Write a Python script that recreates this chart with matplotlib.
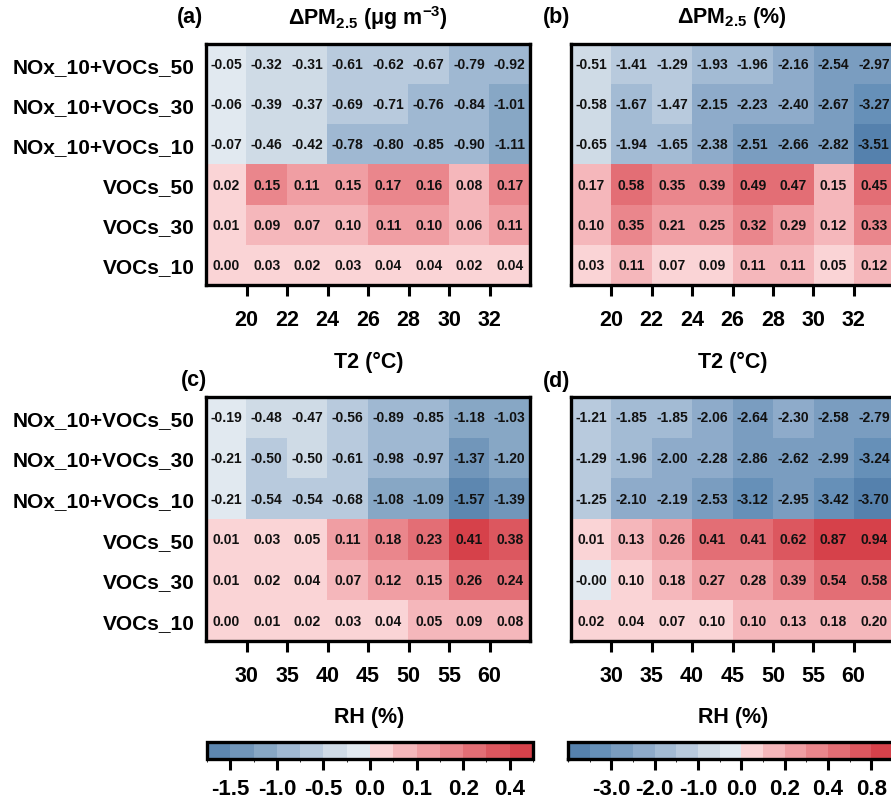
import numpy as np
import matplotlib
matplotlib.use("Agg")
import matplotlib.pyplot as plt
from matplotlib.colors import ListedColormap, BoundaryNorm
from matplotlib.cm import ScalarMappable

plt.rcParams["font.family"] = ["Liberation Sans", "DejaVu Sans"]
plt.rcParams["font.weight"] = "bold"
plt.rcParams["mathtext.fontset"] = "custom"
plt.rcParams["mathtext.rm"] = "Liberation Sans:bold"
plt.rcParams["mathtext.it"] = "Liberation Sans:bold"
plt.rcParams["mathtext.bf"] = "Liberation Sans:bold"

# ---------- data (rows listed top to bottom) ----------
scenarios = ["NOx_10+VOCs_50", "NOx_10+VOCs_30", "NOx_10+VOCs_10",
             "VOCs_50", "VOCs_30", "VOCs_10"]
t2_ticks = ["20", "22", "24", "26", "28", "30", "32"]
rh_ticks = ["30", "35", "40", "45", "50", "55", "60"]

dpm_t2_abs = np.array([
    [-0.05, -0.32, -0.31, -0.61, -0.62, -0.67, -0.79, -0.92],
    [-0.06, -0.39, -0.37, -0.69, -0.71, -0.76, -0.84, -1.01],
    [-0.07, -0.46, -0.42, -0.78, -0.80, -0.85, -0.90, -1.11],
    [0.02, 0.15, 0.11, 0.149, 0.17, 0.16, 0.08, 0.17],
    [0.01, 0.09, 0.07, 0.099, 0.11, 0.10, 0.06, 0.11],
    [0.00, 0.03, 0.02, 0.03, 0.04, 0.04, 0.02, 0.04],
])
dpm_t2_pct = np.array([
    [-0.51, -1.41, -1.29, -1.93, -1.96, -2.16, -2.54, -2.97],
    [-0.58, -1.67, -1.47, -2.15, -2.23, -2.40, -2.67, -3.27],
    [-0.65, -1.94, -1.65, -2.38, -2.51, -2.66, -2.82, -3.51],
    [0.17, 0.58, 0.35, 0.39, 0.49, 0.47, 0.15, 0.45],
    [0.10, 0.35, 0.21, 0.25, 0.32, 0.29, 0.12, 0.33],
    [0.03, 0.11, 0.07, 0.09, 0.11, 0.11, 0.05, 0.12],
])
dpm_rh_abs = np.array([
    [-0.19, -0.48, -0.47, -0.56, -0.89, -0.85, -1.18, -1.03],
    [-0.21, -0.502, -0.496, -0.61, -0.98, -0.97, -1.37, -1.20],
    [-0.21, -0.54, -0.54, -0.68, -1.08, -1.09, -1.57, -1.39],
    [0.01, 0.03, 0.048, 0.11, 0.18, 0.23, 0.41, 0.38],
    [0.01, 0.02, 0.04, 0.07, 0.12, 0.149, 0.26, 0.24],
    [0.00, 0.01, 0.02, 0.03, 0.04, 0.05, 0.09, 0.08],
])
dpm_rh_pct = np.array([
    [-1.21, -1.85, -1.85, -2.06, -2.64, -2.30, -2.58, -2.79],
    [-1.29, -1.96, -2.004, -2.28, -2.86, -2.62, -2.99, -3.24],
    [-1.25, -2.10, -2.19, -2.53, -3.12, -2.95, -3.42, -3.70],
    [0.01, 0.13, 0.26, 0.41, 0.41, 0.62, 0.87, 0.94],
    [-0.004, 0.098, 0.18, 0.27, 0.28, 0.39, 0.54, 0.58],
    [0.02, 0.04, 0.07, 0.098, 0.10, 0.13, 0.18, 0.198],
])

# discrete colour levels
bounds_abs = [-1.75, -1.5, -1.25, -1.0, -0.75, -0.5, -0.25, 0.0,
              0.05, 0.1, 0.15, 0.2, 0.3, 0.4, 0.5]
ticks_abs = [-1.5, -1.0, -0.5, 0.0, 0.1, 0.2, 0.4]
bounds_pct = [-4.0, -3.5, -3.0, -2.5, -2.0, -1.5, -1.0, -0.5, 0.0,
              0.1, 0.2, 0.3, 0.4, 0.6, 0.8, 1.0]
ticks_pct = [-3.0, -2.0, -1.0, 0.0, 0.2, 0.4, 0.8]

reds = ["#fad4d6", "#f5b7bb", "#f09ea3", "#ea868c", "#e36e75", "#dc575f", "#d6414a"]
blues_abs = ["#5d87b0", "#7196ba", "#87a7c5", "#9fb8d2", "#b8cadd", "#cfdbe6", "#e1e9f0"]
blues_pct = ["#5581ad", "#6690b8", "#7a9dc0", "#8eabca", "#a3bbd4", "#b8cadd",
             "#cfdbe6", "#e1e9f0"]

cmap_abs = ListedColormap(blues_abs + reds)
cmap_pct = ListedColormap(blues_pct + reds)
norm_abs = BoundaryNorm(bounds_abs, cmap_abs.N)
norm_pct = BoundaryNorm(bounds_pct, cmap_pct.N)

W, H = 891, 804
fig = plt.figure(figsize=(W / 100, H / 100), dpi=100)


def px(l, t, r, b):
    return [l / W, 1 - b / H, (r - l) / W, (b - t) / H]


def heatmap(rect, data, cmap, norm, xlabels, show_y):
    ax = fig.add_axes(rect)
    ax.imshow(data, cmap=cmap, norm=norm, aspect="auto",
              extent=(0, data.shape[1], data.shape[0], 0), interpolation="nearest")
    for i in range(data.shape[0]):
        for j in range(data.shape[1]):
            ax.text(j + 0.5, i + 0.5, f"{data[i, j]:.2f}", ha="center", va="center",
                    fontsize=10, fontweight="bold", color="#111111")
    ax.set_xticks(np.arange(1, len(xlabels) + 1))
    ax.set_xticklabels(xlabels, fontsize=15.5, fontweight="bold")
    ax.set_yticks(np.arange(data.shape[0]) + 0.5)
    if show_y:
        ax.set_yticklabels(scenarios, fontsize=15, fontweight="bold")
    else:
        ax.set_yticklabels([])
    ax.tick_params(axis="x", length=8, width=2.2, pad=9)
    ax.tick_params(axis="y", length=0, pad=8)
    for s in ax.spines.values():
        s.set_linewidth(2.4)
    return ax


heatmap(px(206, 45, 530, 286), dpm_t2_abs, cmap_abs, norm_abs, t2_ticks, True)
heatmap(px(571, 45, 894, 286), dpm_t2_pct, cmap_pct, norm_pct, t2_ticks, False)
heatmap(px(206, 398, 530, 642), dpm_rh_abs, cmap_abs, norm_abs, rh_ticks, True)
heatmap(px(571, 398, 894, 642), dpm_rh_pct, cmap_pct, norm_pct, rh_ticks, False)

# panel letters, titles and axis labels
lab = dict(fontsize=15.5, fontweight="bold", ha="center", va="center")
fig.text(190 / W, 1 - 18 / H, "(a)", **lab)
fig.text(368 / W, 1 - 18 / H, r"ΔPM$_{2.5}$ (μg m$^{-3}$)", **lab)
fig.text(557 / W, 1 - 18 / H, "(b)", **lab)
fig.text(732 / W, 1 - 18 / H, r"ΔPM$_{2.5}$ (%)", **lab)
fig.text(369 / W, 1 - 362 / H, "T2 (°C)", **lab)
fig.text(733 / W, 1 - 362 / H, "T2 (°C)", **lab)
fig.text(194 / W, 1 - 381 / H, "(c)", **lab)
fig.text(557 / W, 1 - 382 / H, "(d)", **lab)
fig.text(369 / W, 1 - 718 / H, "RH (%)", **lab)
fig.text(733 / W, 1 - 718 / H, "RH (%)", **lab)

# colour bars
for rect, cmap, norm, ticks in [(px(207, 743, 533, 760), cmap_abs, norm_abs, ticks_abs),
                                (px(568, 743, 893, 760), cmap_pct, norm_pct, ticks_pct)]:
    cax = fig.add_axes(rect)
    cb = fig.colorbar(ScalarMappable(norm=norm, cmap=cmap), cax=cax,
                      orientation="horizontal", ticks=ticks)
    cb.ax.set_xticklabels([f"{t:.1f}" for t in ticks], fontsize=16, fontweight="bold")
    cb.ax.tick_params(length=8, width=2.2, pad=6)
    cb.outline.set_linewidth(2.4)

fig.savefig("out.png", dpi=100)
